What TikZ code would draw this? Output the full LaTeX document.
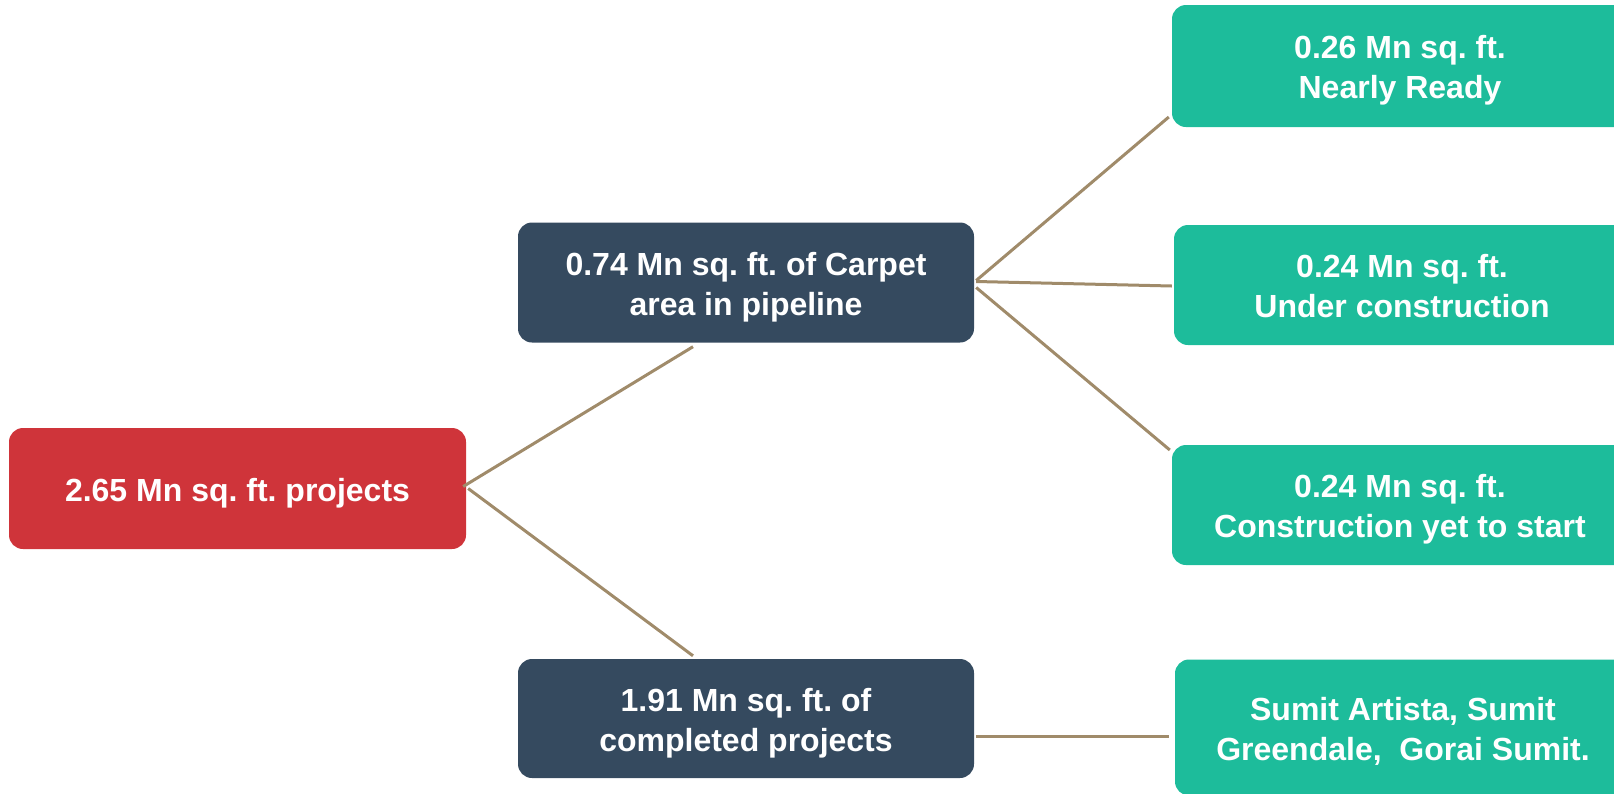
\documentclass[tikz,border=0pt]{standalone}
\usepackage{fontspec}
\setmainfont{Liberation Sans}
\usetikzlibrary{positioning}
\definecolor{redbox}{RGB}{207,52,58}
\definecolor{navybox}{RGB}{53,74,95}
\definecolor{greenbox}{RGB}{29,188,155}
\definecolor{linktan}{RGB}{160,139,106}
\newcommand\lnstrut{\rule[-7pt]{0pt}{39pt}}
\tikzset{
  box/.style={rounded corners=14pt, text=white, align=center,
    font=\fontsize{32}{38}\selectfont\bfseries\frenchspacing, inner sep=0pt},
  redstyle/.style={box, fill=redbox, minimum width=457pt, minimum height=121pt},
  navystyle/.style={box, fill=navybox, minimum width=456pt, minimum height=120pt},
  greenstyle/.style={box, fill=greenbox, minimum width=456pt, minimum height=121pt},
  link/.style={draw=linktan, line width=3pt}
}
\begin{document}
\begin{tikzpicture}[x=1pt,y=-1pt]
\useasboundingbox (0,0) rectangle (1614,793);
\clip (0,0) rectangle (1614,793);
\node[redstyle] (root) at (237.5,488.5) {\lnstrut 2.65 Mn sq. ft. projects\lnstrut};
\node[navystyle] (pipe) at (746,282.5) {\lnstrut 0.74 Mn sq. ft. of Carpet\\area in pipeline\lnstrut};
\node[navystyle, minimum height=119pt] (done) at (746,718.5) {\lnstrut 1.91 Mn sq. ft. of\\completed projects\lnstrut};
\node[greenstyle, minimum height=122pt] (ready) at (1400,66) {\lnstrut 0.26 Mn sq. ft.\\Nearly Ready\lnstrut};
\node[greenstyle, minimum height=120pt] (under) at (1402,285) {\lnstrut 0.24 Mn sq. ft.\\Under construction\lnstrut};
\node[greenstyle, minimum height=120pt] (yet) at (1400,505) {\lnstrut 0.24 Mn sq. ft.\\Construction yet to start\lnstrut};
\node[greenstyle, minimum height=136pt] (sumit) at (1403,727.5) {\lnstrut Sumit Artista, Sumit\\Greendale,\ \ Gorai Sumit.\lnstrut};
\draw[link] ([xshift=-3pt,yshift=2pt]root.east) -- ([xshift=-53pt,yshift=-4pt]pipe.south);
\draw[link] ([xshift=2pt,yshift=0pt]root.east) -- ([xshift=-53pt,yshift=3pt]done.north);
\draw[link] ([xshift=2pt,yshift=2pt]pipe.east) -- ([xshift=-3pt,yshift=-51pt]ready.west);
\draw[link] ([xshift=2pt,yshift=1pt]pipe.east) -- ([xshift=-2pt,yshift=-1pt]under.west);
\draw[link] ([xshift=2pt,yshift=-5pt]pipe.east) -- ([xshift=-2pt,yshift=55pt]yet.west);
\draw[link] ([xshift=2pt,yshift=-17.5pt]done.east) -- ([xshift=-6pt,yshift=-8.5pt]sumit.west);
\end{tikzpicture}
\end{document}
